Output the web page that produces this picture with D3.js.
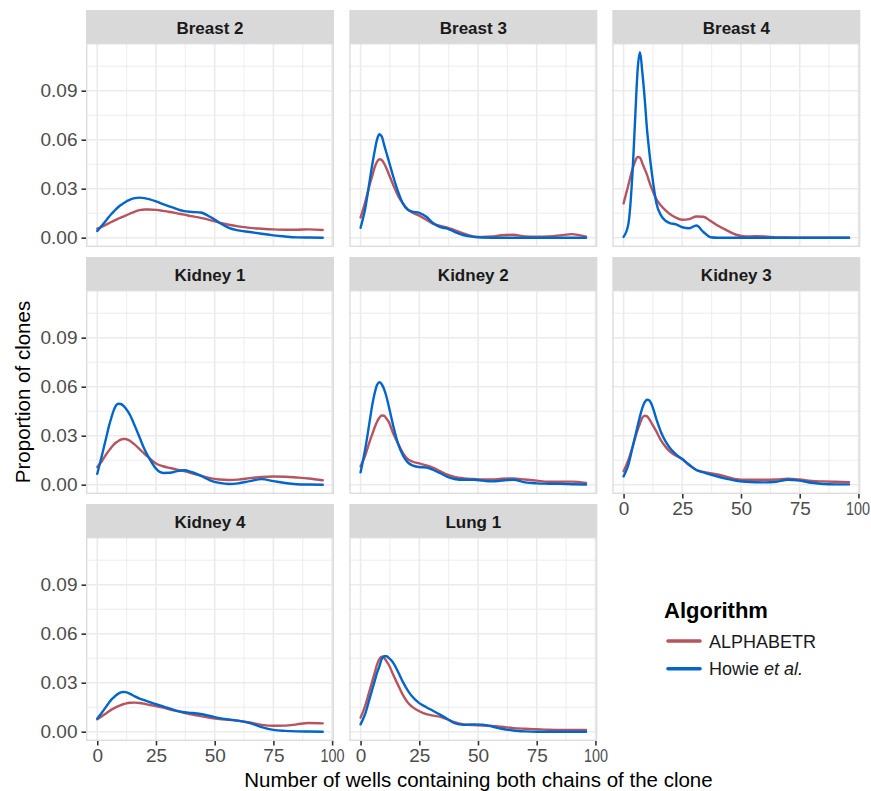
<!DOCTYPE html>
<html>
<head>
<meta charset="utf-8">
<script src="https://cdn.jsdelivr.net/npm/d3@7"></script>
<style>
  html, body { margin: 0; padding: 0; background: #fff; }
  svg { display: block; font-family: "Liberation Sans", Arial, sans-serif; }
</style>
</head>
<body>
<svg id="chart" width="871" height="791"></svg>
<script>
// ---------- DATA ----------
const wells = [0,2,4,5,6,7,8,9,10,11,12,14,16,18,20,22,25,28,31,34,37,40,44,48,52,56,60,65,70,75,80,85,90,96];

const panelNames = ["Breast 2","Breast 3","Breast 4","Kidney 1","Kidney 2","Kidney 3","Kidney 4","Lung 1"];
const algorithms = ["ALPHABETR","Howie et al."];

const breast2Alphabetr = [.0055,.0068,.0082,.0089,.0096,.0103,.011,.0117,.0123,.0129,.0135,.0148,.016,.0169,.0173,.0173,.017,.0164,.0157,.0149,.0141,.0132,.0121,.0108,.0092,.0079,.0069,.006,.0055,.0051,.0049,.0049,.0051,.0047];
const breast2Howie     = [.0041,.0075,.011,.0128,.0145,.016,.0175,.0188,.02,.021,.0219,.0233,.0242,.0245,.0242,.0236,.0222,.0205,.019,.0175,.0163,.0158,.0154,.0128,.0092,.006,.0045,.0035,.0024,.0014,.0007,.0002,.0001,0];

const breast3Alphabetr = [.0124,.022,.033,.038,.043,.0465,.048,.0475,.0455,.0425,.039,.032,.0255,.021,.0175,.0155,.0135,.011,.0084,.0072,.0062,.0046,.0025,.0008,.0004,.0007,.0015,.0018,.0008,.0006,.0008,.0014,.0022,.0006];
const breast3Howie     = [.0061,.018,.036,.045,.053,.06,.0633,.062,.057,.052,.047,.037,.028,.021,.0172,.016,.0152,.0128,.0088,.0064,.0056,.0036,.0015,.0005,.0001,0,0,0,0,0,0,0,0,0];

const breast4Alphabetr = [.021,.032,.043,.047,.0495,.049,.0455,.042,.0385,.034,.03,.0235,.0195,.0165,.0142,.0125,.011,.0114,.013,.0128,.0103,.0075,.0045,.0018,.0007,.0009,.0008,.0002,.0001,0,0,0,0,0];
const breast4Howie     = [.0005,.008,.045,.075,.103,.1135,.101,.085,.066,.052,.04,.021,.0135,.0102,.0088,.0083,.0064,.0058,.0075,.0035,.0003,0,0,0,0,0,0,0,0,0,0,0,0,0];

const kidney1Alphabetr = [.0108,.0145,.019,.021,.0228,.0245,.0258,.0268,.0276,.028,.028,.0268,.0245,.0218,.019,.0165,.013,.0113,.0102,.0092,.0083,.0071,.0055,.004,.0032,.0029,.0031,.004,.0047,.005,.0049,.0044,.0038,.0027];
const kidney1Howie     = [.0067,.018,.03,.036,.041,.0455,.0485,.0496,.0494,.0485,.047,.0425,.036,.029,.022,.0165,.0098,.0072,.0073,.0083,.0088,.0078,.0055,.0027,.0011,.0004,.0008,.0022,.0034,.0022,.001,.0003,.0001,0];

const kidney2Alphabetr = [.0112,.018,.027,.031,.035,.0385,.041,.0424,.0422,.0405,.0385,.031,.025,.0195,.0158,.0142,.013,.0118,.0103,.0082,.0062,.0048,.0039,.0035,.0032,.0032,.0036,.0038,.0032,.0025,.0018,.0018,.0019,.001];
const kidney2Howie     = [.0076,.022,.04,.049,.056,.061,.0627,.0615,.0585,.054,.048,.0355,.025,.018,.0138,.0118,.0108,.0105,.009,.007,.0048,.0035,.003,.003,.0025,.002,.0025,.003,.0014,.0008,.0006,.0005,.0003,.0001];

const kidney3Alphabetr = [.0082,.015,.024,.029,.0335,.0375,.041,.0422,.0418,.04,.0375,.0325,.027,.023,.02,.018,.0157,.0118,.009,.0078,.007,.0063,.0048,.0034,.003,.003,.003,.0032,.0037,.0032,.0023,.002,.0018,.0016];
const kidney3Howie     = [.0051,.012,.024,.03,.036,.042,.047,.0505,.052,.0515,.049,.04,.032,.0262,.022,.019,.0156,.0122,.009,.0075,.0062,.005,.0036,.0024,.0018,.0015,.0014,.0018,.003,.0025,.0012,.0004,.0002,.0002];

const kidney4Alphabetr = [.0076,.0095,.0115,.0125,.0135,.0143,.015,.0157,.0163,.0168,.0172,.0177,.0178,.0176,.0171,.0165,.0157,.0147,.0136,.0126,.0116,.0106,.0095,.0085,.0077,.0072,.0066,.0056,.0042,.0036,.0037,.0045,.0053,.0051];
const kidney4Howie     = [.008,.0118,.0158,.0178,.0196,.021,.0223,.0233,.024,.0243,.0242,.0232,.0216,.0203,.0193,.0183,.0168,.0155,.0141,.0127,.0119,.0115,.0108,.0096,.0083,.0075,.0068,.0053,.0028,.0011,.0005,.0002,.0001,0];

const lung1Alphabetr   = [.0086,.016,.026,.031,.036,.041,.0445,.0459,.0452,.0432,.041,.0345,.0285,.0225,.018,.0152,.0125,.0107,.0098,.0091,.0075,.0058,.0045,.004,.0037,.0035,.003,.0022,.0018,.0015,.0012,.0011,.001,.001];
const lung1Howie       = [.0045,.011,.021,.026,.031,.036,.04,.0445,.0462,.0462,.0452,.042,.0365,.0305,.0255,.0215,.0175,.015,.0127,.0103,.0078,.0052,.0042,.0045,.0043,.0032,.0018,.0007,.0002,0,0,0,0,0];

const xTicks = [0,25,50,75,100];
const xMinor = [12.5,37.5,62.5,87.5];
const yTicks = [0,0.03,0.06,0.09];
const yMinor = [0.015,0.045,0.075,0.105];

// ---------- BUILD TABLE ----------
const seriesByPanel = [
  [breast2Alphabetr, breast2Howie],
  [breast3Alphabetr, breast3Howie],
  [breast4Alphabetr, breast4Howie],
  [kidney1Alphabetr, kidney1Howie],
  [kidney2Alphabetr, kidney2Howie],
  [kidney3Alphabetr, kidney3Howie],
  [kidney4Alphabetr, kidney4Howie],
  [lung1Alphabetr, lung1Howie]
];

const colors = {"ALPHABETR": "#B8545E", "Howie et al.": "#0066CC"};

// ---------- LAYOUT ----------
const svg = d3.select("#chart");
const colLeft = [86, 349.3, 612.3];
const stripTop = [10, 257, 504];
const panelW = 248, stripH = 33, panelH = 204;

const x = d3.scaleLinear().domain([-4.8, 100.8]).range([0, panelW]);
const y = d3.scaleLinear().domain([-0.0057, 0.1192]).range([panelH, 0]);

const line = d3.line()
  .x(d => x(d[0]))
  .y(d => y(d[1]))
  .curve(d3.curveMonotoneX);

const yFmt = d3.format(".2f");

panelNames.forEach((name, i) => {
  const col = i % 3, row = Math.floor(i / 3);
  const left = colLeft[col], top = stripTop[row];
  const g = svg.append("g").attr("transform", `translate(${left},${top})`);

  // strip
  g.append("rect").attr("x", 0).attr("y", 0).attr("width", panelW).attr("height", stripH)
    .attr("fill", "#D9D9D9");
  g.append("text").attr("x", panelW / 2).attr("y", 23.5)
    .attr("text-anchor", "middle").attr("font-weight", "bold")
    .attr("font-size", 17).attr("fill", "#1A1A1A").text(name);

  const p = g.append("g").attr("transform", `translate(0,${stripH})`);
  p.append("rect").attr("width", panelW).attr("height", panelH).attr("fill", "#fff");

  // minor grid
  p.selectAll(".xminor").data(xMinor).join("line")
    .attr("x1", d => x(d)).attr("x2", d => x(d)).attr("y1", 0).attr("y2", panelH)
    .attr("stroke", "#EBEBEB").attr("stroke-width", 0.9);
  p.selectAll(".yminor").data(yMinor).join("line")
    .attr("y1", d => y(d)).attr("y2", d => y(d)).attr("x1", 0).attr("x2", panelW)
    .attr("stroke", "#EBEBEB").attr("stroke-width", 0.9);
  // major grid
  p.selectAll(".xmajor").data(xTicks).join("line")
    .attr("x1", d => x(d)).attr("x2", d => x(d)).attr("y1", 0).attr("y2", panelH)
    .attr("stroke", "#EBEBEB").attr("stroke-width", 1.6);
  p.selectAll(".ymajor").data(yTicks).join("line")
    .attr("y1", d => y(d)).attr("y2", d => y(d)).attr("x1", 0).attr("x2", panelW)
    .attr("stroke", "#EBEBEB").attr("stroke-width", 1.6);

  // curves
  algorithms.forEach((alg, k) => {
    const vals = seriesByPanel[i][k];
    const pts = wells.map((w, j) => [w, vals[j]]);
    p.append("path").datum(pts).attr("d", line)
      .attr("fill", "none").attr("stroke", colors[alg])
      .attr("stroke-width", 2.4).attr("stroke-linejoin", "round").attr("stroke-linecap", "round");
  });

  // border
  p.append("rect").attr("x", 0.7).attr("y", 0.7).attr("width", panelW - 1.4).attr("height", panelH - 1.4)
    .attr("fill", "none").attr("stroke", "#DDDDDD").attr("stroke-width", 1.4);

  // y axis on first column
  if (col === 0) {
    const ya = d3.axisLeft(y).tickValues(yTicks).tickFormat(yFmt).tickSize(4.5).tickPadding(4);
    const ag = p.append("g").call(ya);
    ag.select(".domain").remove();
    ag.selectAll(".tick line").attr("stroke", "#333333").attr("stroke-width", 1.6);
    ag.selectAll(".tick text").attr("fill", "#4D4D4D").attr("font-size", 19)
      .attr("font-family", "'Liberation Sans', Arial, sans-serif");
  }
  // x axis on bottom-most panels of each column
  if (i >= 5) {
    const xa = d3.axisBottom(x).tickValues(xTicks).tickFormat(d3.format("d")).tickSize(4.5).tickPadding(3);
    const ag = p.append("g").attr("transform", `translate(0,${panelH})`).call(xa);
    ag.select(".domain").remove();
    ag.selectAll(".tick line").attr("stroke", "#333333").attr("stroke-width", 1.6);
    ag.selectAll(".tick text").attr("fill", "#4D4D4D").attr("font-size", 19)
      .attr("font-family", "'Liberation Sans', Arial, sans-serif")
      .each(function(d) {
        if (d === 100) {
          const t = d3.select(this).attr("textLength", 24).attr("lengthAdjust", "spacingAndGlyphs");
          if (col === 2) t.attr("text-anchor", "end").attr("x", 11);
        }
      });
  }
});

// axis titles
svg.append("text").attr("x", 478.5).attr("y", 786.5).attr("text-anchor", "middle")
  .attr("font-size", 20.5).attr("fill", "#000")
  .text("Number of wells containing both chains of the clone");
svg.append("text").attr("transform", "translate(30,392) rotate(-90)")
  .attr("text-anchor", "middle").attr("font-size", 20.5).attr("fill", "#000")
  .text("Proportion of clones");

// legend
const lg = svg.append("g");
lg.append("text").attr("x", 664).attr("y", 617.5).attr("font-size", 22).attr("font-weight", "bold")
  .attr("fill", "#000").text("Algorithm");
algorithms.forEach((alg, k) => {
  const ly = 641 + k * 27.7;
  lg.append("line").attr("x1", 668).attr("x2", 700).attr("y1", ly).attr("y2", ly)
    .attr("stroke", colors[alg]).attr("stroke-width", 3.6).attr("stroke-linecap", "round");
  const t = lg.append("text").attr("x", 709).attr("y", ly + 6.5).attr("font-size", 18).attr("fill", "#1A1A1A");
  if (alg === "Howie et al.") {
    t.append("tspan").text("Howie ");
    t.append("tspan").attr("font-style", "italic").text("et al.");
  } else {
    t.text(alg);
  }
});
</script>
</body>
</html>
